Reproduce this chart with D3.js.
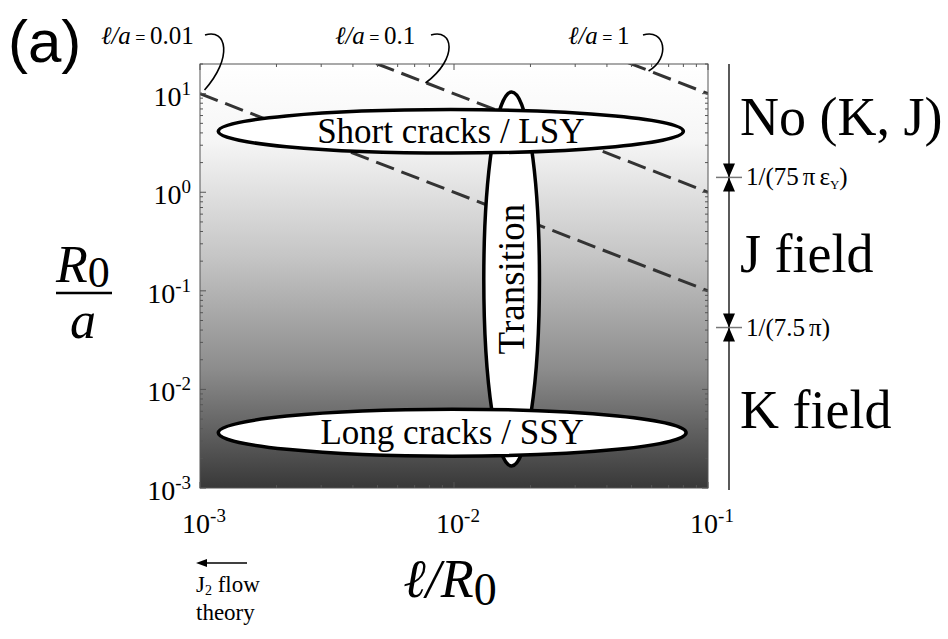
<!DOCTYPE html>
<html>
<head>
<meta charset="utf-8">
<script src="https://cdn.jsdelivr.net/npm/d3@7"></script>
<style>
  body { margin: 0; background: #fff; }
  text { font-family: "Liberation Serif", "DejaVu Serif", serif; fill: #000; }
</style>
</head>
<body>
<svg id="chart" width="948" height="639"></svg>
<script>
// axis ranges and ticks
const xDomain = [1e-3, 1e-1];
const yDomain = [1e-3, 20];
const xTicks = [1e-3, 1e-2, 1e-1];
const yTicks = [1e-3, 1e-2, 1e-1, 1e0, 1e1];

// lines of constant l/a : (l/R0) * (R0/a) = l/a
const lineRatios = [0.01, 0.1, 1];
const lineLabels = ["0.01", "0.1", "1"];

// regions drawn as ellipses: [xmin, xmax, ymin, ymax] in data units
const regionNames = ["Transition", "Short cracks / LSY", "Long cracks / SSY"];
const regionBoxes = [
  [0.0131, 0.0217, 1.67e-3, 10.4],
  [1.18e-3, 0.080, 2.5, 6.9],
  [1.18e-3, 0.082, 2.1e-3, 6.3e-3]
];

// field boundaries in R0/a
const boundaryValues = [1 / (75 * Math.PI * 0.003), 1 / (7.5 * Math.PI)];
const fieldNames = ["No (K, J)", "J field", "K field"];

const svg = d3.select("#chart").attr("font-family", "'Liberation Serif', serif");
const pLeft = 200, pRight = 708, pTop = 64, pBottom = 488;

const x = d3.scaleLog().domain(xDomain).range([pLeft, pRight]);
const y = d3.scaleLog().domain(yDomain).range([pBottom, pTop]);

// background gradient (dark = small R0/a)
const defs = svg.append("defs");
const grad = defs.append("linearGradient")
  .attr("id", "bg").attr("x1", 0).attr("y1", 0).attr("x2", 0).attr("y2", 1);
[[0, "#ffffff"], [0.18, "#f6f6f6"], [0.45, "#c6c6c6"], [0.72, "#8c8c8c"], [1, "#383838"]]
  .forEach(([o, c]) => grad.append("stop").attr("offset", o).attr("stop-color", c));

defs.append("clipPath").attr("id", "plot-clip")
  .append("rect").attr("x", pLeft).attr("y", pTop)
  .attr("width", pRight - pLeft).attr("height", pBottom - pTop);

svg.append("rect")
  .attr("x", pLeft).attr("y", pTop)
  .attr("width", pRight - pLeft).attr("height", pBottom - pTop)
  .attr("fill", "url(#bg)");

// dashed l/a lines
const plot = svg.append("g").attr("clip-path", "url(#plot-clip)");
plot.selectAll(".ratio")
  .data(lineRatios)
  .join("line")
  .attr("x1", (c) => x(xDomain[0]))
  .attr("y1", (c) => y(c / xDomain[0]))
  .attr("x2", (c) => x(xDomain[1]))
  .attr("y2", (c) => y(c / xDomain[1]))
  .attr("stroke", "#333")
  .attr("stroke-width", 3)
  .attr("stroke-dasharray", "19,8");

// region ellipses
const regions = svg.append("g");
regionBoxes.forEach((b, i) => {
  const x0 = x(b[0]), x1 = x(b[1]), y0 = y(b[3]), y1 = y(b[2]);
  const cx = (x0 + x1) / 2, cy = (y0 + y1) / 2;
  regions.append("ellipse")
    .attr("cx", cx).attr("cy", cy)
    .attr("rx", (x1 - x0) / 2).attr("ry", (y1 - y0) / 2)
    .attr("fill", "#fff").attr("stroke", "#000").attr("stroke-width", 3.5);
  const t = regions.append("text")
    .attr("text-anchor", "middle")
    .attr("dominant-baseline", "central")
    .attr("font-size", i === 0 ? 37 : 35)
    .text(regionNames[i]);
  if (i === 0) {
    t.attr("transform", `translate(${cx},${cy}) rotate(-90)`);
  } else {
    t.attr("x", cx).attr("y", cy);
  }
});

// frame and ticks (all pointing inwards)
const frame = svg.append("g").attr("stroke", "#555").attr("stroke-width", 1);
frame.append("rect")
  .attr("x", pLeft).attr("y", pTop)
  .attr("width", pRight - pLeft).attr("height", pBottom - pTop)
  .attr("fill", "none");

const minor = (dom) => {
  const out = [];
  for (let e = Math.floor(Math.log10(dom[0])); e <= Math.ceil(Math.log10(dom[1])); e++) {
    for (let k = 1; k < 10; k++) {
      const v = k * Math.pow(10, e);
      if (v >= dom[0] && v <= dom[1]) out.push({ v, major: k === 1 });
    }
  }
  return out;
};
minor(xDomain).forEach((t) => {
  const len = t.major ? 6 : 3;
  frame.append("line").attr("x1", x(t.v)).attr("x2", x(t.v)).attr("y1", pBottom).attr("y2", pBottom - len);
  frame.append("line").attr("x1", x(t.v)).attr("x2", x(t.v)).attr("y1", pTop).attr("y2", pTop + len);
});
minor(yDomain).forEach((t) => {
  const len = t.major ? 6 : 3;
  frame.append("line").attr("y1", y(t.v)).attr("y2", y(t.v)).attr("x1", pLeft).attr("x2", pLeft + len);
  frame.append("line").attr("y1", y(t.v)).attr("y2", y(t.v)).attr("x1", pRight).attr("x2", pRight - len);
});

// tick labels, 10 with superscript exponent
function powLabel(sel, v) {
  sel.append("tspan").text("10");
  sel.append("tspan").attr("dy", -11).attr("font-size", 19).text(Math.round(Math.log10(v)));
}
xTicks.forEach((v) => {
  const t = svg.append("text").attr("x", x(v) + 4).attr("y", 533)
    .attr("text-anchor", "middle").attr("font-size", 28);
  powLabel(t, v);
});
yTicks.forEach((v) => {
  const t = svg.append("text").attr("x", 191).attr("y", y(v) + 12)
    .attr("text-anchor", "end").attr("font-size", 28);
  powLabel(t, v);
});

// axis titles
const rt = svg.append("text").attr("x", 56).attr("y", 282).attr("font-size", 52);
rt.append("tspan").attr("font-style", "italic").text("R");
rt.append("tspan").attr("dy", 5).attr("font-size", 44).text("0");
svg.append("line").attr("x1", 56).attr("x2", 112).attr("y1", 293).attr("y2", 293)
  .attr("stroke", "#000").attr("stroke-width", 2.5);
svg.append("text").attr("x", 83).attr("y", 338).attr("text-anchor", "middle")
  .attr("font-size", 52).attr("font-style", "italic").text("a");

const xt = svg.append("text").attr("x", 450).attr("y", 597)
  .attr("text-anchor", "middle").attr("font-size", 54);
xt.append("tspan").attr("font-style", "italic").text("ℓ/R");
xt.append("tspan").attr("dy", 8).attr("font-size", 46).text("0");

// panel label
svg.append("text").attr("x", 8).attr("y", 62)
  .style("font-family", "'Liberation Sans', Arial, sans-serif")
  .attr("font-size", 60).text("(a)");

// l/a labels with curved leaders
const labelPos = [[101, 205], [335, 431], [568, 643]];
lineRatios.forEach((c, i) => {
  const t = svg.append("text").attr("x", labelPos[i][0]).attr("y", 44).attr("font-size", 25);
  t.append("tspan").attr("font-style", "italic").text("ℓ/a");
  t.append("tspan").attr("font-size", 18).text(" = ");
  t.append("tspan").text(lineLabels[i]);
  // leader ends near the dashed line
  const yEnd = i === 0 ? 90 : i === 1 ? 83 : 71;
  const xEnd = x(c / y.invert(yEnd)) + (i === 0 ? 14 : -1);
  const sx = labelPos[i][1];
  svg.append("path")
    .attr("d", `M${sx},35 C${sx + 22},28 ${sx + 28},58 ${xEnd},${yEnd}`)
    .attr("fill", "none").attr("stroke", "#000").attr("stroke-width", 1.6);
});

// right side field bar
const barX = 729;
svg.append("line").attr("x1", barX).attr("x2", barX).attr("y1", pTop).attr("y2", pBottom + 2)
  .attr("stroke", "#000").attr("stroke-width", 1.3);
const boundaryText = [
  (t) => {
    t.append("tspan").text("1/(75");
    t.append("tspan").attr("dx", 4).text("π");
    t.append("tspan").attr("dx", 4).text("ε");
    t.append("tspan").attr("font-size", 13).attr("dy", 4).text("Y");
    t.append("tspan").attr("dy", -4).text(")");
  },
  (t) => {
    t.append("tspan").text("1/(7.5");
    t.append("tspan").attr("dx", 4).text("π");
    t.append("tspan").text(")");
  }
];
boundaryValues.forEach((v, i) => {
  const by = y(v);
  svg.append("line").attr("x1", barX - 13).attr("x2", barX + 13).attr("y1", by).attr("y2", by)
    .attr("stroke", "#777").attr("stroke-width", 1.5);
  svg.append("path")
    .attr("d", `M${barX - 6},${by - 14} L${barX + 6},${by - 14} L${barX},${by} Z M${barX - 6},${by + 14} L${barX + 6},${by + 14} L${barX},${by} Z`)
    .attr("fill", "#000");
  const t = svg.append("text").attr("x", 746).attr("y", by + 8).attr("font-size", 25);
  boundaryText[i](t);
});
const fieldY = [135, 272, 428];
fieldNames.forEach((n, i) => {
  svg.append("text").attr("x", 740).attr("y", fieldY[i]).attr("font-size", 54).text(n);
});

// J2 flow theory arrow
svg.append("line").attr("x1", 247).attr("x2", 204).attr("y1", 563).attr("y2", 563)
  .attr("stroke", "#000").attr("stroke-width", 1.3);
svg.append("path").attr("d", "M196,563 L207,559 L207,567 Z").attr("fill", "#000");
const j2 = svg.append("text").attr("x", 196).attr("y", 592).attr("font-size", 23);
j2.append("tspan").text("J");
j2.append("tspan").attr("font-size", 14).attr("dy", 3).text("2");
j2.append("tspan").attr("dy", -3).text(" flow");
svg.append("text").attr("x", 196).attr("y", 620).attr("font-size", 23).text("theory");
</script>
</body>
</html>
